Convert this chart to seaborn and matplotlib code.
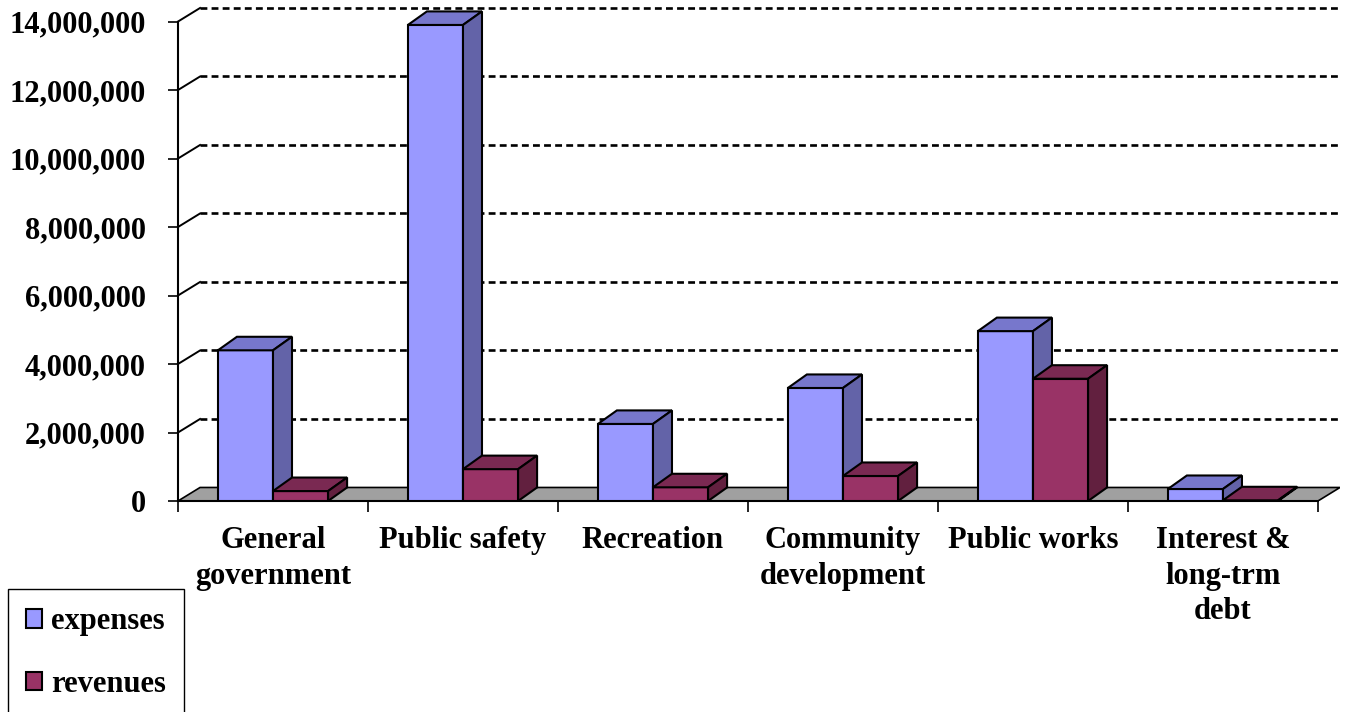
import numpy as np
import pandas as pd
import matplotlib
matplotlib.use('Agg')
import matplotlib.pyplot as plt
import seaborn as sns
from matplotlib.patches import Polygon
from matplotlib.ticker import FuncFormatter

# chart data
categories = ['General\ngovernment', 'Public safety', 'Recreation',
              'Community\ndevelopment', 'Public works', 'Interest &\nlong-trm\ndebt']
expenses = [4400000, 13900000, 2250000, 3300000, 4960000, 350000]
revenues = [290000, 930000, 400000, 730000, 3570000, 20000]
series_names = ['expenses', 'revenues']
y_ticks = [0, 2000000, 4000000, 6000000, 8000000, 10000000, 12000000, 14000000]

# excel-2003 style colours: front, top and side faces
front_colors = ['#9999FF', '#993366']
top_colors = ['#7777CC', '#7A2952']
side_colors = ['#6363A8', '#62203F']

# fake 3d depth in data units
DX = 0.1       # bar depth, x
FDX = 0.116    # floor / wall depth, x
DY = 395000    # depth, y

plt.rcParams['font.family'] = ['Liberation Serif', 'DejaVu Serif']
plt.rcParams['font.weight'] = 'bold'

df = pd.DataFrame({
    'category': categories * 2,
    'value': expenses + revenues,
    'series': [series_names[0]] * len(categories) + [series_names[1]] * len(categories),
})

fig = plt.figure(figsize=(13.47, 7.12), dpi=100)
ax = fig.add_axes([178 / 1347, 1 - 501 / 712, 1162 / 1347, 493 / 712])

sns.barplot(data=df, x='category', y='value', hue='series', palette=front_colors,
            saturation=1, width=0.58, edgecolor='black', linewidth=1.5,
            errorbar=None, ax=ax)

n = len(categories)
left, right = -0.5, n - 0.5

# floor
floor = Polygon([(left, 0), (right, 0), (right + FDX, DY), (left + FDX, DY)],
                closed=True, fc='#a0a0a0', ec='black', lw=1.2, zorder=1)
ax.add_patch(floor)

# back wall gridlines + side wall connectors
for v in y_ticks[1:]:
    ax.plot([left + FDX, right + FDX], [v + DY, v + DY], ls=(0, (2.6, 1.6)),
            color='black', lw=1.9, zorder=0.5, clip_on=False)
    ax.plot([left, left + FDX], [v, v + DY], color='black', lw=1.4,
            zorder=0.5, clip_on=False)

# top and side faces for each bar
for k, cont in enumerate(ax.containers):
    for bar in cont:
        x0, w, h = bar.get_x(), bar.get_width(), bar.get_height()
        bar.set_zorder(3 + k)
        top = Polygon([(x0, h), (x0 + w, h), (x0 + w + DX, h + DY), (x0 + DX, h + DY)],
                      closed=True, fc=top_colors[k], ec='black', lw=1.5, zorder=3.1 + k)
        side = Polygon([(x0 + w, 0), (x0 + w + DX, DY), (x0 + w + DX, h + DY), (x0 + w, h)],
                       closed=True, fc=side_colors[k], ec='black', lw=1.5, zorder=3.2 + k)
        ax.add_patch(top)
        ax.add_patch(side)

ax.set_xlim(left, right + FDX)
ax.set_ylim(0, y_ticks[-1] + DY)
ax.set_xlabel('')
ax.set_ylabel('')

for s in ['top', 'right']:
    ax.spines[s].set_visible(False)
ax.spines['left'].set_bounds(0, y_ticks[-1])
ax.spines['bottom'].set_bounds(left, right)
ax.spines['left'].set_linewidth(1.5)
ax.spines['bottom'].set_linewidth(1.5)

ax.set_yticks(y_ticks)
ax.yaxis.set_major_formatter(FuncFormatter(lambda v, p: f'{int(v):,}'))
ax.tick_params(axis='y', length=7, width=1.2, pad=16, labelsize=22)

ax.set_xticks(range(n))
ax.set_xticklabels(categories, linespacing=1.3)
ax.set_xticks(np.arange(left, right + 1, 1), minor=True)
ax.tick_params(axis='x', which='major', length=0, pad=18, labelsize=22)
ax.tick_params(axis='x', which='minor', length=8, width=1.2)

# legend in the bottom left corner
handles, labels = ax.get_legend_handles_labels()
if ax.get_legend() is not None:
    ax.get_legend().remove()
leg = fig.legend(handles, labels, loc='upper left',
                 bbox_to_anchor=(8 / 1347, 1 - 589 / 712), borderaxespad=0,
                 frameon=True, fancybox=False, edgecolor='black', fontsize=22,
                 handlelength=0.5, handleheight=0.55, handletextpad=0.3,
                 labelspacing=1.1, borderpad=0.6)
leg.get_frame().set_linewidth(1)
leg.get_frame().set_alpha(1)

fig.savefig('out.png', dpi=100)
